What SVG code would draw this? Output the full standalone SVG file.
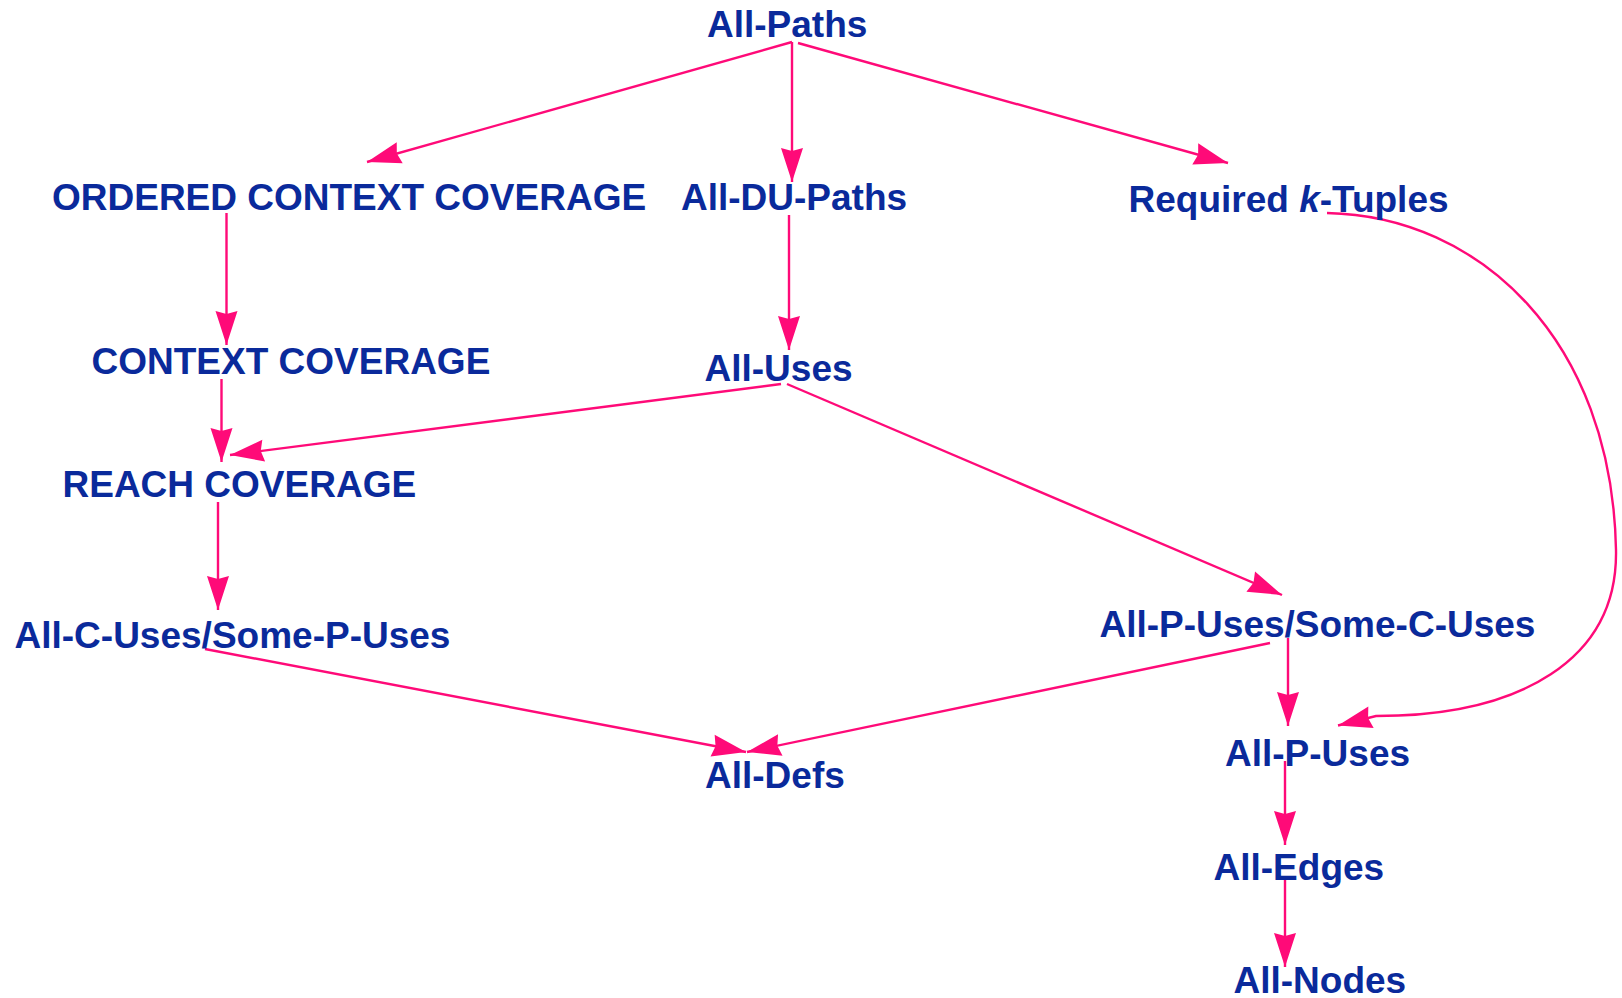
<svg xmlns="http://www.w3.org/2000/svg" width="1622" height="998" viewBox="0 0 1622 998">
  <style>
    .lbl { font-family: "Liberation Sans", Arial, sans-serif; font-weight: bold; font-size: 37px; fill: #0a2a9b; }
    .edge { fill: none; stroke: #ff0a78; stroke-width: 2.4; marker-end: url(#head); }
  </style>
  <defs>
    <marker id="head" markerUnits="userSpaceOnUse" markerWidth="40" markerHeight="26" viewBox="0 -13 36 26" refX="34" refY="0" orient="auto">
      <path d="M0,-11 L34,0 L0,11 L3,0 Z" fill="#ff0a78"/>
    </marker>
  </defs>

  <rect width="1622" height="998" fill="#ffffff"/>

  <!-- connectors -->
  <g id="connectors">
    <path class="edge" d="M792,42 L367,162"/>
    <path class="edge" d="M792,42 L792,182"/>
    <path class="edge" d="M798,43 L1228,163"/>
    <path class="edge" d="M789,215 L789,350"/>
    <path class="edge" d="M226.5,213 L226.5,345"/>
    <path class="edge" d="M221.5,379 L221.5,462"/>
    <path class="edge" d="M781,384 L230,455"/>
    <path class="edge" d="M787,384 L1282,595"/>
    <path class="edge" d="M218,502 L218,610"/>
    <path class="edge" d="M205,649 L746,752"/>
    <path class="edge" d="M1270,643 L747,752"/>
    <path class="edge" d="M1288,638 L1288,726"/>
    <path class="edge" d="M1327,213 C1480,216 1612,340 1616,550 C1618,660 1520,716 1376,716 L1338,725.5"/>
    <path class="edge" d="M1285,761 L1285,845"/>
    <path class="edge" d="M1285,880 L1285,967"/>
  </g>

  <!-- nodes -->
  <g id="n-all-paths"><text class="lbl" x="707" y="36.5">All-Paths</text></g>
  <g id="n-ordered-context"><text class="lbl" x="52" y="210">ORDERED CONTEXT COVERAGE</text></g>
  <g id="n-all-du-paths"><text class="lbl" x="681" y="210">All-DU-Paths</text></g>
  <g id="n-required-k-tuples"><text class="lbl" x="1128.5" y="212">Required <tspan font-style="italic">k</tspan>-Tuples</text></g>
  <g id="n-context"><text class="lbl" x="91.5" y="373.5">CONTEXT COVERAGE</text></g>
  <g id="n-all-uses"><text class="lbl" x="704.5" y="381">All-Uses</text></g>
  <g id="n-reach"><text class="lbl" x="62.5" y="496.5">REACH COVERAGE</text></g>
  <g id="n-all-c-uses"><text class="lbl" x="14.5" y="647.5">All-C-Uses/Some-P-Uses</text></g>
  <g id="n-all-p-uses-some-c"><text class="lbl" x="1099.5" y="637">All-P-Uses/Some-C-Uses</text></g>
  <g id="n-all-defs"><text class="lbl" x="705" y="788">All-Defs</text></g>
  <g id="n-all-p-uses"><text class="lbl" x="1225" y="765.5">All-P-Uses</text></g>
  <g id="n-all-edges"><text class="lbl" x="1213.5" y="880">All-Edges</text></g>
  <g id="n-all-nodes"><text class="lbl" x="1233.5" y="993">All-Nodes</text></g>
</svg>
